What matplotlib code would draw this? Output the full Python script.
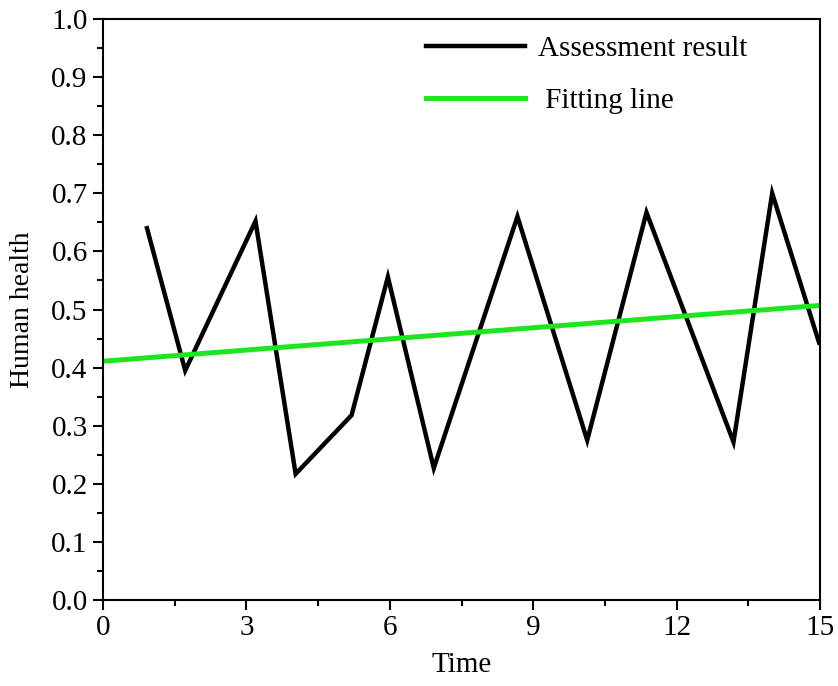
import numpy as np
import matplotlib
matplotlib.use('Agg')
import matplotlib.pyplot as plt
from matplotlib.ticker import MultipleLocator

plt.rcParams['font.family'] = ['Liberation Serif', 'DejaVu Serif']
plt.rcParams['font.size']   = 20

# assessment result over time
time_pts  = [0.92, 1.72, 3.19, 4.03, 5.20, 5.96, 6.92, 8.67, 10.13, 11.37, 13.19, 14.00, 14.98]
health    = [0.640, 0.395, 0.652, 0.217, 0.318, 0.556, 0.227, 0.660, 0.275, 0.667, 0.272, 0.700, 0.443]

# linear fit endpoints
fit_x     = [0, 15]
fit_y     = [0.411, 0.507]

xticks    = [0, 3, 6, 9, 12, 15]
yticks    = np.round(np.arange(0, 1.01, 0.1), 1)

fig = plt.figure(figsize=(8.38, 6.86), dpi=100)
ax  = fig.add_axes([103/838, 86/686, 717/838, 581/686])

ax.plot(time_pts, health, '-', c='black', lw=3.2, label='Assessment result',
        solid_joinstyle='miter')
ax.plot(fit_x, fit_y, '-', c='#1ee61e', lw=3.6, label=' Fitting line')

ax.set_xlim(0, 15)
ax.set_ylim(0, 1.0)
ax.set_xticks(xticks)
ax.set_yticks(yticks)
ax.set_yticklabels(['%.1f' % v for v in yticks])
ax.xaxis.set_minor_locator(MultipleLocator(1.5))
ax.yaxis.set_minor_locator(MultipleLocator(0.05))

for s in ax.spines.values():
    s.set_linewidth(1.5)
ax.tick_params(which='both', direction='out', width=1.5, top=False, right=False)
ax.tick_params(which='major', length=7, pad=4)
ax.tick_params(which='minor', length=4)
ax.tick_params(axis='both', labelsize=21)

ax.set_xlabel('Time', fontsize=21, labelpad=8)
ax.set_ylabel('Human health', labelpad=12)

ax.legend(loc='upper left', bbox_to_anchor=(0.43, 0.997), frameon=False,
          fontsize=21, handlelength=3.4, handletextpad=0.45, labelspacing=0.9,
          borderaxespad=0.2, borderpad=0.3)

plt.savefig('out.png', dpi=100)
